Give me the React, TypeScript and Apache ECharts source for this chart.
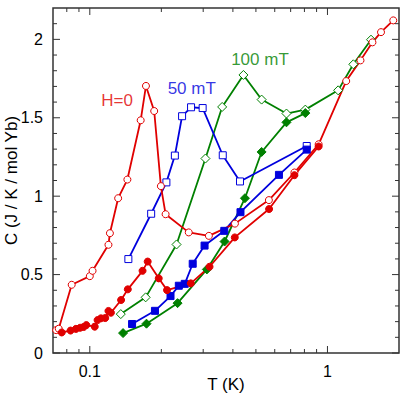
import React, { useEffect, useRef } from "react";
import * as echarts from "echarts";

// ---- data ----
const T_H0_open = [0.0722, 0.074, 0.0839, 0.1, 0.1027, 0.1198, 0.1215, 0.1316, 0.1439, 0.1637, 0.1723, 0.1866, 0.1991, 0.2084, 0.2608, 0.317, 0.408, 0.567, 0.726, 0.918, 1.199, 1.377, 1.546, 1.68, 1.892];
const C_H0_open = [0.146, 0.155, 0.435, 0.49, 0.524, 0.69, 0.764, 0.987, 1.106, 1.484, 1.703, 1.543, 1.064, 0.885, 0.769, 0.747, 0.825, 0.975, 1.151, 1.331, 1.734, 1.866, 1.981, 2.046, 2.121];

const T_H0_fill = [0.0762, 0.083, 0.0874, 0.091, 0.0942, 0.0967, 0.1049, 0.1078, 0.1114, 0.1161, 0.1198, 0.1227, 0.1354, 0.1445, 0.1667, 0.1752, 0.195, 0.2113, 0.266, 0.319, 0.4074, 0.568, 0.726, 0.918];
const C_H0_fill = [0.131, 0.143, 0.154, 0.161, 0.166, 0.178, 0.168, 0.21, 0.221, 0.223, 0.268, 0.257, 0.338, 0.406, 0.524, 0.583, 0.476, 0.401, 0.444, 0.55, 0.737, 0.918, 1.134, 1.317];

const T_50_open = [0.1453, 0.1812, 0.21, 0.228, 0.2445, 0.2667, 0.2984, 0.3626, 0.4285, 0.818];
const C_50_open = [0.599, 0.888, 1.088, 1.259, 1.51, 1.567, 1.562, 1.261, 1.094, 1.32];

const T_50_fill = [0.1506, 0.188, 0.2186, 0.2369, 0.2509, 0.271, 0.304, 0.368, 0.4305, 0.625, 0.818];
const C_50_fill = [0.185, 0.269, 0.363, 0.429, 0.441, 0.569, 0.685, 0.779, 0.898, 1.136, 1.297];

const T_100_open = [0.135, 0.1718, 0.2317, 0.3066, 0.3605, 0.443, 0.5284, 0.6722, 0.807, 1.109, 1.285, 1.525];
const C_100_open = [0.248, 0.355, 0.692, 1.24, 1.569, 1.773, 1.616, 1.527, 1.552, 1.675, 1.841, 1.998];

const T_100_fill = [0.138, 0.1732, 0.234, 0.3108, 0.369, 0.4495, 0.5284, 0.6722, 0.807];
const C_100_fill = [0.127, 0.187, 0.318, 0.533, 0.711, 0.987, 1.282, 1.471, 1.53];

const annotationTexts = ["H=0", "50 mT", "100 mT"];
const annotationT = [0.1303, 0.2685, 0.52];
const annotationC = [1.61, 1.688, 1.873];

const xMajorTicks = [0.1, 1];
const xMinorTicks = [0.08, 0.09, 0.2, 0.3, 0.4, 0.5, 0.6, 0.7, 0.8, 0.9];
const xTickLabels = ["0.1", "1"];
const yMajorTicks = [0, 0.5, 1, 1.5, 2];
const yMinorTicks = [0.1, 0.2, 0.3, 0.4, 0.6, 0.7, 0.8, 0.9, 1.1, 1.2, 1.3, 1.4, 1.6, 1.7, 1.8, 1.9, 2.1];

const RED = "#e00000";
const BLUE = "#0000dd";
const GREEN = "#008000";
const FRAME = "#333333";
const FONT = "'Liberation Sans', Arial, sans-serif";

const zip = (a: number[], b: number[]) => a.map((v, i) => [v, b[i]]);

export default function App() {
  const ref = useRef<HTMLDivElement>(null);
  useEffect(() => {
    if (!ref.current) return;
    const chart = echarts.init(ref.current, null, { renderer: "svg" });

    const lineSeries = (name: string, data: number[][], color: string, symbol: string, size: number, open: boolean) => ({
      name,
      type: "line",
      data,
      symbol,
      symbolSize: size,
      showSymbol: true,
      lineStyle: { color, width: 1.8 },
      itemStyle: open
        ? { color: "#ffffff", borderColor: color, borderWidth: 1, opacity: 1 }
        : { color, borderColor: color, borderWidth: 1 },
      emphasis: { disabled: true },
      z: 3,
    });

    const xTickData = [
      ...xMajorTicks.map((v) => [v, 1, 1]),
      ...xMinorTicks.map((v) => [v, 1, 0]),
    ];
    const yTickData = [
      ...yMajorTicks.map((v) => [1, v, 1]),
      ...yMinorTicks.map((v) => [1, v, 0]),
    ];

    const option: any = {
      animation: false,
      grid: {
        left: 53,
        right: 10,
        top: 8,
        bottom: 42,
        containLabel: false,
        outerBoundsMode: "none",
        show: true,
        borderColor: FRAME,
        borderWidth: 1.5,
        backgroundColor: "transparent",
      },
      xAxis: {
        type: "log",
        logBase: 10,
        min: 0.07,
        max: 2,
        name: "T (K)",
        nameLocation: "middle",
        nameGap: 23,
        nameMoveOverlap: false,
        nameTextStyle: { fontFamily: FONT, fontSize: 17, color: "#000" },
        axisLine: { show: false },
        axisTick: { show: false },
        splitLine: { show: false },
        axisLabel: {
          fontFamily: FONT,
          fontSize: 16,
          color: "#000",
          margin: 10,
          showMinLabel: false,
          showMaxLabel: false,
          formatter: (v: number) => {
            for (let i = 0; i < xMajorTicks.length; i++) {
              if (Math.abs(v - xMajorTicks[i]) < 1e-6 * xMajorTicks[i] + 1e-9) return xTickLabels[i];
            }
            return "";
          },
        },
      },
      yAxis: {
        type: "value",
        min: 0,
        max: 2.2,
        interval: 0.5,
        name: "C (J / K / mol Yb)",
        nameLocation: "middle",
        nameGap: 33,
        nameRotate: 90,
        nameMoveOverlap: false,
        nameTextStyle: { fontFamily: FONT, fontSize: 17, color: "#000" },
        axisLine: { show: false },
        axisTick: { show: false },
        splitLine: { show: false },
        axisLabel: {
          fontFamily: FONT,
          fontSize: 16,
          color: "#000",
          margin: 10,
          showMaxLabel: false,
        },
      },
      series: [
        lineSeries("100 mT open", zip(T_100_open, C_100_open), GREEN, "diamond", 9, true),
        lineSeries("100 mT filled", zip(T_100_fill, C_100_fill), GREEN, "diamond", 9, false),
        lineSeries("50 mT open", zip(T_50_open, C_50_open), BLUE, "rect", 7, true),
        lineSeries("50 mT filled", zip(T_50_fill, C_50_fill), BLUE, "rect", 7, false),
        lineSeries("H=0 open", zip(T_H0_open, C_H0_open), RED, "circle", 7, true),
        lineSeries("H=0 filled", zip(T_H0_fill, C_H0_fill), RED, "circle", 7, false),
        {
          name: "annotations",
          type: "scatter",
          symbolSize: 0,
          silent: true,
          data: annotationTexts.map((t, i) => ({
            value: [annotationT[i], annotationC[i]],
            label: {
              show: true,
              position: "inside",
              formatter: t,
              fontFamily: FONT,
              fontSize: 17,
              color: [RED, BLUE, GREEN][i],
            },
          })),
          z: 5,
        },
        {
          name: "xticks",
          type: "custom",
          silent: true,
          data: xTickData,
          encode: { x: 0, y: 1 },
          renderItem: (params: any, api: any) => {
            const p = api.coord([api.value(0), 1]);
            const cs = params.coordSys;
            const len = api.value(2) ? 7 : 4;
            const bottom = cs.y + cs.height;
            return {
              type: "group",
              children: [
                { type: "line", shape: { x1: p[0], y1: bottom, x2: p[0], y2: bottom - len }, style: { stroke: FRAME, lineWidth: 1 } },
                { type: "line", shape: { x1: p[0], y1: cs.y, x2: p[0], y2: cs.y + len }, style: { stroke: FRAME, lineWidth: 1 } },
              ],
            };
          },
          z: 4,
        },
        {
          name: "yticks",
          type: "custom",
          silent: true,
          data: yTickData,
          encode: { x: 0, y: 1 },
          renderItem: (params: any, api: any) => {
            const p = api.coord([1, api.value(1)]);
            const cs = params.coordSys;
            const len = api.value(2) ? 7 : 4;
            const right = cs.x + cs.width;
            return {
              type: "group",
              children: [
                { type: "line", shape: { x1: cs.x, y1: p[1], x2: cs.x + len, y2: p[1] }, style: { stroke: FRAME, lineWidth: 1 } },
                { type: "line", shape: { x1: right, y1: p[1], x2: right - len, y2: p[1] }, style: { stroke: FRAME, lineWidth: 1 } },
              ],
            };
          },
          z: 4,
        },
      ],
    };
    chart.setOption(option);
    return () => chart.dispose();
  }, []);
  return <div ref={ref} style={{ position: "absolute", left: 0, top: 0, width: 409, height: 395 }} />;
}
